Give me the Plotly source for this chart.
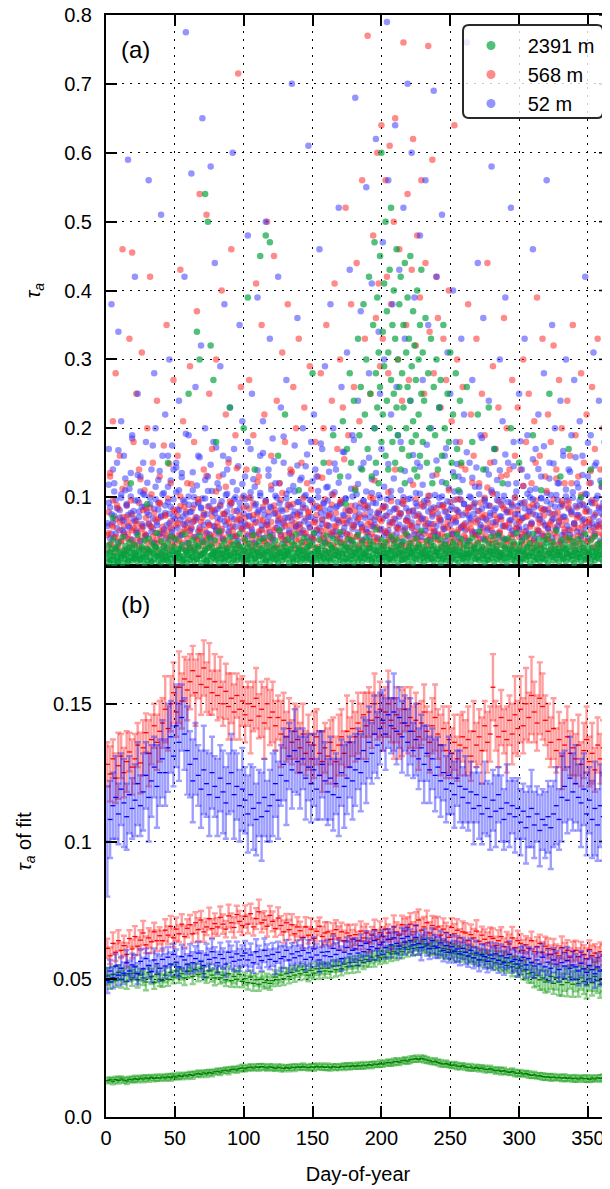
import plotly.graph_objects as go

# ------------------------------------------------------------------ DATA
# (a) daily aerosol optical depth samples, values in units of 1e-3
days = list(range(1, 366))

green_band = [
12,5,20,9,15,3,24,11,7,18,14,4,22,10,16,6,27,13,8,19,
11,21,6,15,9,25,13,4,17,8,23,12,6,19,10,28,14,7,16,5,
20,9,13,26,7,17,11,3,22,15,8,18,12,24,6,14,10,21,5,16,
9,23,13,7,19,11,29,15,4,18,10,22,8,14,26,6,17,12,20,9,
15,5,24,11,18,7,13,21,9,16,4,25,12,19,8,14,27,10,17,6,
22,13,9,18,5,15,23,11,7,20,14,3,24,10,17,8,21,12,6,19,
11,26,9,16,5,20,13,8,22,15,10,18,4,25,12,7,19,14,9,23,
6,16,11,21,8,14,28,10,17,5,20,12,9,24,15,7,18,11,22,6,
13,19,8,25,11,16,4,21,14,9,18,6,23,12,17,7,27,10,15,5,
20,12,8,24,14,6,17,11,21,9,15,26,7,18,12,4,22,10,16,8,
25,13,19,6,15,10,23,8,17,12,28,5,20,14,9,22,11,16,7,24,
13,18,5,21,10,15,27,8,19,12,6,23,14,9,17,11,25,7,16,20,
10,14,4,22,12,18,8,26,13,6,19,11,24,9,16,5,21,14,10,17,
7,23,12,18,6,15,28,10,20,13,8,24,11,16,5,19,14,9,22,12,
17,6,25,10,14,20,8,16,11,27,5,19,13,22,9,15,7,24,12,18,
6,21,11,16,9,26,13,4,19,14,8,23,10,17,7,20,12,28,9,15,
5,22,13,18,8,25,11,16,6,20,14,10,24,7,17,12,21,9,15,4,
23,10,18,13,7,26,15,9,20,11,16,5,22,13,8,19,12,27,10,17,
6,21,14,9,24]

green_band_b = [
18,30,9,24,38,14,27,7,33,20,12,42,16,29,22,8,35,19,26,11,
31,15,45,23,10,28,17,37,13,25,40,21,6,32,18,27,48,14,24,36,
12,29,20,9,34,16,43,22,28,11,39,19,25,14,31,8,46,23,17,33,
26,13,38,21,30,10,27,44,16,35,19,24,7,32,41,15,28,20,37,12,
23,50,18,29,11,36,21,26,14,42,17,31,9,25,34,19,47,13,28,22,
38,10,27,33,16,24,45,12,30,20,36,15,26,40,18,8,31,22,43,14,
29,17,37,11,25,52,19,32,13,28,21,39,16,24,35,10,30,46,18,26,
14,34,23,41,12,27,19,36,9,31,48,17,25,22,38,15,29,13,33,44,
20,11,30,26,40,16,23,35,13,49,28,18,32,10,27,39,21,15,37,24,
31,17,45,22,12,34,27,19,41,14,26,36,10,30,23,53,16,29,20,38,
13,28,35,18,24,11,43,21,32,15,39,25,17,30,9,36,22,47,14,27,
33,19,26,12,40,23,31,16,51,20,28,14,37,24,18,34,11,29,42,21,
25,15,38,28,10,32,22,44,17,27,13,35,20,30,46,16,24,39,12,31,
18,29,14,36,23,41,19,26,11,33,50,21,28,15,37,24,9,32,20,43,
27,16,34,22,45,13,30,19,38,25,12,40,17,29,23,35,14,48,21,31,
10,36,24,18,42,28,15,33,20,47,26,13,30,39,17,25,11,37,22,34,
44,19,29,14,35,23,51,16,27,21,38,12,32,25,18,41,28,15,36,20,
30,13,39,24,17,33,22,46,11,28,19,37,26,14,43,21,31,16,34,25,
18,40,23,12,31]

green_out_x = [5,18,30,45,60,66,68,72,74,76,78,80,90,100,103,108,112,116,119,125,130,140,150,158,165,
170,172,174,175,177,178,180,181,183,184,185,186,187,188,189,190,191,192,193,194,
195,195,196,196,197,197,198,198,199,199,200,200,201,201,202,202,203,203,204,204,
205,205,206,206,207,207,208,208,209,209,210,210,211,211,212,212,213,213,214,214,
215,215,216,216,217,217,218,218,219,219,220,220,221,221,222,222,223,223,224,224,
225,225,226,226,227,227,228,228,229,229,230,230,231,232,233,234,235,236,237,238,
239,240,241,242,243,244,245,246,247,248,249,250,251,252,253,254,255,256,257,258,
262,266,270,274,278,282,288,294,300,310,316,322,330,336,345,352,360]
green_out_y = [70,120,90,150,250,340,300,540,500,320,270,180,230,200,390,140,450,480,470,160,220,110,280,150,190,
130,210,90,170,280,150,240,110,330,190,260,140,380,220,300,170,420,250,130,350,
200,470,280,150,390,230,310,120,450,260,180,600,340,220,410,290,160,500,240,370,
310,140,430,200,270,520,350,180,250,400,150,330,460,230,300,190,380,260,140,420,
280,170,350,230,440,120,310,200,260,390,160,330,240,450,180,290,370,210,140,320,
270,190,400,130,300,220,350,160,250,430,180,310,240,360,150,280,200,330,120,260,
190,300,140,230,270,160,350,200,120,250,180,310,150,220,130,280,170,110,240,150,
260,180,220,140,230,170,120,200,150,190,110,250,130,170,100,140,120]

red_band_a = [
45,78,32,60,95,41,68,27,83,52,36,71,58,24,88,47,63,39,75,55,
30,66,49,92,37,58,81,43,70,26,62,85,35,54,77,48,33,69,90,42,
57,28,74,51,98,38,65,44,82,31,59,73,46,87,34,61,53,79,40,67,
25,56,84,42,71,36,93,49,64,29,77,52,39,86,60,45,72,33,81,50,
63,37,89,54,41,76,28,68,47,94,35,58,80,43,66,31,74,55,99,40,
70,46,32,83,57,38,91,62,44,75,29,67,52,86,36,60,48,78,34,64,
41,88,55,27,73,50,96,39,65,45,82,33,59,71,43,90,54,37,76,48,
61,30,85,47,69,35,79,56,42,92,38,63,74,28,84,51,67,40,97,53,
36,72,46,89,31,58,77,44,66,34,95,50,62,81,39,70,45,87,32,57,
80,43,68,26,91,55,37,74,49,85,33,64,58,98,42,71,36,79,52,65,
29,87,48,73,38,60,94,45,69,35,83,56,41,76,31,90,53,66,44,78,
59,34,81,50,97,40,63,72,37,86,47,68,30,92,55,43,75,61,39,84,
46,70,33,88,57,42,79,64,28,93,51,67,38,82,49,73,35,96,58,44,
77,54,36,85,62,47,90,31,69,45,80,39,71,56,99,43,65,34,87,52,
38,74,60,29,94,48,67,41,83,57,35,78,63,46,89,32,70,54,81,42,
66,37,91,50,72,44,86,33,61,76,40,95,53,68,30,84,47,73,58,39,
82,49,64,35,97,56,43,78,31,70,60,88,45,66,37,93,51,75,42,62,
34,85,55,71,40,90,48,63,79,36,68,52,96,44,74,57,32,86,61,47,
73,39,82,58,45]

red_band_b = [
22,48,135,31,57,19,42,88,27,64,36,112,45,18,71,39,26,95,52,33,
17,61,40,29,126,54,23,47,83,35,20,58,104,43,28,67,38,21,92,50,
34,16,73,44,25,148,56,30,41,79,19,62,37,101,27,49,86,24,55,32,
46,119,28,65,21,39,97,53,18,70,35,44,131,26,59,31,82,42,22,108,
57,29,48,17,76,38,115,25,63,33,91,51,20,44,142,30,68,23,53,85,
36,19,60,99,27,45,74,32,21,122,50,40,16,66,34,93,26,56,42,117,
24,52,81,30,18,69,43,106,28,58,37,20,89,47,137,31,62,25,72,39,
55,22,98,35,48,17,77,29,111,41,64,26,53,19,85,37,128,45,23,60,
32,74,18,49,103,27,57,40,21,93,34,66,155,30,46,24,80,38,59,20,
113,43,28,71,36,52,17,88,31,61,25,100,47,35,124,22,56,39,68,29,
84,19,50,33,107,42,26,63,37,140,23,54,76,30,18,95,45,28,65,34,
21,58,118,40,27,73,32,49,90,24,16,61,36,102,44,29,79,51,20,133,
38,67,25,47,86,31,19,56,110,35,42,22,70,28,97,53,33,146,26,60,
41,17,83,30,54,121,24,45,63,36,20,92,49,27,74,39,114,23,57,32,
105,44,21,68,35,50,18,87,29,59,132,37,25,78,42,31,99,55,22,64,
28,46,116,33,19,72,40,57,26,89,34,150,23,51,62,30,81,43,17,109,
39,60,24,75,31,48,127,20,66,35,94,27,53,41,18,85,37,120,29,55,
22,70,44,32,103,58,26,79,36,19,63,138,40,28,91,47,24,56,33,115,
45,27,76,34,61]

red_out_x = [3,5,7,10,12,15,17,19,20,22,24,26,28,30,32,34,37,39,42,44,47,49,
52,54,56,59,61,64,66,68,71,73,75,77,80,82,84,87,89,91,94,96,98,
102,104,107,109,111,113,115,117,120,122,124,126,128,130,132,134,136,138,140,142,144,146,148,
152,154,156,158,160,162,164,166,168,170,172,174,176,178,180,182,184,186,188,190,192,194,196,197,198,199,
200,201,203,204,205,206,207,209,210,212,213,215,216,218,219,220,222,223,225,226,
228,229,231,232,234,235,237,238,240,241,243,245,247,249,
251,253,255,257,259,261,263,265,267,269,271,273,275,277,279,281,283,285,287,289,291,293,295,297,299,
301,303,305,307,309,311,313,315,317,319,321,323,325,327,329,331,333,335,337,339,
341,343,345,347,349,351,353,355,357,359,361,363,365]
red_out_y = [130,210,280,160,460,120,330,455,180,250,140,310,110,200,420,150,240,130,175,350,120,270,
160,430,210,120,290,180,370,540,140,510,250,170,300,130,400,220,150,460,190,715,260,
140,270,190,410,130,350,220,500,160,450,240,120,310,180,380,140,260,200,330,150,230,120,290,
180,130,280,200,350,150,240,410,170,300,230,520,190,380,260,440,210,560,330,770,250,480,360,600,410,290,
640,330,560,420,280,610,380,500,650,300,460,240,760,350,540,270,430,620,320,480,
390,560,250,440,755,340,590,280,420,360,230,330,270,400,
210,640,300,180,260,140,380,220,160,330,120,250,190,440,150,290,170,230,130,360,200,140,270,160,230,
140,300,180,250,120,210,390,160,330,130,220,180,320,140,270,200,120,240,160,350,
190,130,280,150,220,120,260,170,330,140,200,250,160]

blue_band_a = [
58,92,40,75,63,108,47,84,35,70,99,52,66,43,88,74,56,101,38,80,
65,48,95,71,36,86,57,103,44,78,61,90,50,69,34,97,59,82,46,73,
104,53,77,41,93,62,86,49,72,38,107,55,81,67,45,96,60,76,33,89,
51,79,64,100,42,70,91,56,85,37,74,98,48,63,87,40,109,58,77,52,
83,46,68,94,39,75,60,105,50,88,71,43,97,57,80,36,92,66,54,102,
61,87,44,73,99,53,68,34,90,78,47,106,59,82,41,95,64,72,49,85,
38,76,102,55,66,91,45,80,62,37,98,70,51,86,43,74,108,57,93,60,
79,48,89,65,103,42,71,56,96,39,84,67,52,100,46,77,61,90,35,73,
95,58,83,44,69,107,50,87,63,40,92,74,55,98,47,81,66,36,101,59,
72,104,49,85,61,38,94,70,53,88,43,79,106,57,67,91,41,76,99,54,
86,45,73,97,52,64,109,39,82,68,48,93,60,77,35,100,56,84,70,43,
98,63,80,46,91,57,75,105,42,69,87,51,96,62,38,83,72,49,103,58,
44,89,67,101,54,79,36,94,71,60,86,47,108,65,81,41,97,55,74,90,
62,37,85,70,99,50,76,92,45,66,104,56,83,40,95,68,52,88,73,107,
48,81,64,96,43,72,89,58,102,39,78,93,55,67,86,46,100,61,75,53,
91,42,70,84,57,105,47,79,63,97,38,74,88,51,68,99,44,82,60,94,
55,77,103,41,69,86,53,96,64,36,90,72,49,101,58,83,45,78,107,61,
87,50,74,95,43,66,88,56,104,40,79,93,62,71,47,98,59,84,37,76,
92,54,81,65,100]

blue_band_b = [
62,118,85,47,140,73,96,55,168,81,104,66,49,127,90,58,112,77,185,69,
95,52,132,79,108,61,150,86,45,121,74,99,57,175,83,115,64,92,138,71,
48,106,88,59,160,76,124,53,97,68,143,82,110,44,129,72,93,192,63,101,
78,54,136,89,67,117,50,158,84,98,60,125,75,109,46,147,80,94,57,172,
70,113,87,51,133,65,103,79,155,56,91,122,68,100,43,145,83,62,119,76,
97,58,180,72,107,49,126,88,64,139,81,102,53,164,74,94,60,131,86,111,
45,152,77,99,63,120,82,56,188,70,105,89,48,134,66,116,79,58,146,93,
74,128,52,101,84,162,61,96,71,123,47,140,87,109,55,178,68,92,81,114,
59,137,76,104,50,149,85,67,121,90,46,166,73,98,62,130,80,112,54,183,
88,64,119,75,142,57,95,83,108,49,157,71,126,92,60,135,77,103,53,170,
69,115,86,48,148,78,100,63,127,84,56,190,72,110,91,51,138,66,97,80,
124,55,161,73,106,87,47,144,68,118,94,58,176,79,102,61,131,85,50,153,
76,99,65,122,89,54,171,71,113,82,46,136,96,63,148,78,107,57,125,90,
52,165,74,101,67,128,86,49,143,80,115,60,186,70,97,88,55,133,77,110,
63,151,84,104,48,139,72,96,58,162,81,119,66,92,51,145,75,108,87,56,
181,69,116,93,50,130,79,100,61,155,85,112,47,141,73,98,64,174,82,106,
54,127,90,67,149,76,103,58,120,86,45,167,71,111,95,53,137,80,99,62,
158,74,114,88,49,132,68,105,83,179,60,121,91,55,146,77,102,65,124,84,
57,140,93,70,113]

blue_out_x = [2,4,6,8,9,11,13,14,16,18,19,21,23,25,27,29,31,33,35,36,38,40,41,43,45,46,48,49,
51,53,55,57,58,60,62,63,65,67,69,70,72,74,76,78,79,81,83,85,86,88,90,92,93,95,97,99,
101,103,105,106,108,110,112,114,116,118,119,121,123,125,127,129,131,133,135,137,139,141,143,145,147,149,
151,153,155,157,159,161,163,165,167,169,171,173,175,177,179,181,183,185,187,189,191,193,195,196,198,199,
201,202,204,205,207,208,210,211,213,214,216,217,219,221,222,224,226,228,230,232,234,236,238,240,242,244,246,248,250,
252,254,256,258,260,262,264,266,268,270,272,274,276,278,280,282,284,286,288,290,292,294,296,298,
300,302,304,306,308,310,312,314,316,318,320,322,324,326,328,330,332,334,336,338,
340,342,344,346,348,350,352,354,356,358,360,362,364]
blue_out_y = [170,380,120,150,340,210,160,110,590,135,190,420,250,130,105,180,560,140,280,200,125,510,160,220,115,300,175,140,
150,240,135,420,775,190,570,110,260,160,320,650,200,130,580,180,440,120,290,160,380,140,230,600,170,110,350,210,
130,480,170,250,115,390,160,210,500,140,330,185,120,420,230,150,270,110,700,175,360,125,200,145,610,180,
220,130,460,170,290,115,380,200,140,520,260,165,310,430,190,680,240,370,150,550,280,410,200,620,340,250,
470,300,790,560,220,380,640,260,430,180,520,330,700,240,600,390,150,480,270,560,350,200,690,420,230,510,160,310,250,
400,180,130,330,220,760,150,270,115,440,190,360,140,240,580,170,125,300,210,390,150,520,180,120,
250,140,330,190,110,460,170,220,130,280,560,150,350,200,120,240,160,300,140,190,
270,120,210,160,420,130,190,310,150,240,115,180,300]

# (b) tau_a of the fits, every second day; values in 1e-4, errors as noted
fit_days = list(range(1, 366, 2))

red_hi = [1280,1245,1300,1230,1275,1310,1250,1290,1325,1270,
1300,1350,1285,1340,1395,1320,1370,1420,1360,1400,
1430,1480,1410,1500,1540,1470,1560,1510,1590,1550,
1580,1620,1540,1600,1570,1630,1560,1590,1540,1580,
1530,1560,1500,1545,1490,1520,1470,1530,1480,1510,
1460,1500,1440,1490,1520,1455,1480,1430,1500,1450,
1470,1420,1450,1390,1440,1380,1410,1360,1400,1370,
1340,1390,1320,1360,1300,1350,1380,1320,1290,1340,
1310,1360,1330,1290,1350,1380,1320,1400,1360,1410,
1380,1430,1400,1460,1420,1470,1440,1500,1450,1480,
1430,1470,1500,1440,1410,1460,1390,1430,1480,1420,
1450,1400,1440,1380,1430,1470,1400,1360,1420,1450,
1390,1350,1410,1330,1370,1320,1360,1300,1350,1380,
1340,1370,1310,1400,1350,1380,1330,1420,1360,1390,
1560,1420,1380,1450,1400,1370,1440,1390,1460,1410,
1480,1420,1500,1450,1530,1470,1430,1520,1490,1440,
1400,1360,1410,1330,1370,1310,1350,1380,1320,1340,
1300,1350,1280,1330,1370,1290,1320,1260,1350,1300,
1340,1280,1320]
red_hi_err = [8,10,7,9,12,8,9,11,7,10, 9,8,11,10,7,12,9,8,10,11, 9,12,8,10,11,9,13,10,8,11,
10,9,12,8,11,10,9,13,8,10, 9,11,8,10,12,9,10,8,11,9, 10,8,12,9,11,8,10,13,9,10,
11,9,8,12,10,9,11,8,10,12, 9,11,8,10,9,12,10,8,11,9, 10,8,12,9,11,10,8,13,9,10,
9,11,10,8,12,9,10,11,8,10, 10,9,12,8,11,10,9,12,8,10, 11,9,10,12,8,10,9,11,10,12,
9,11,8,10,12,9,10,8,11,9, 10,12,9,11,8,10,12,9,11,10, 12,9,11,10,8,12,9,11,14,10,
12,10,13,9,14,11,10,13,12,9, 10,9,11,8,10,12,9,11,8,10, 9,11,8,10,12,9,11,8,10,9, 10,12,9]

blue_hi = [1000,1080,1130,1160,1100,1190,1140,1090,1170,1120,
1150,1210,1130,1180,1240,1160,1220,1270,1200,1250,
1300,1250,1340,1380,1310,1420,1360,1450,1390,1330,
1280,1220,1300,1240,1190,1260,1210,1170,1250,1200,
1160,1230,1180,1140,1210,1250,1170,1200,1130,1190,
1150,1100,1170,1120,1080,1140,1090,1160,1110,1130,
1170,1210,1150,1240,1280,1220,1310,1260,1330,1290,
1250,1300,1230,1270,1210,1260,1190,1240,1280,1220,
1180,1230,1170,1210,1160,1250,1200,1230,1270,1220,
1260,1300,1250,1330,1290,1360,1320,1390,1350,1410,
1440,1390,1460,1420,1470,1400,1450,1380,1430,1360,
1400,1330,1370,1300,1340,1280,1320,1260,1300,1240,
1270,1220,1250,1190,1240,1210,1170,1230,1200,1160,
1190,1140,1180,1120,1170,1130,1100,1160,1120,1090,
1150,1110,1170,1120,1080,1140,1100,1130,1090,1120,
1070,1110,1050,1090,1120,1060,1100,1040,1080,1060,
1090,1050,1100,1130,1080,1160,1200,1150,1230,1180,
1210,1160,1140,1190,1100,1150,1080,1120,1060,1130,
1090,1050,1110]
blue_hi_err = [20,14,12,15,11,13,16,12,14,11, 13,15,11,14,12,16,13,11,15,12, 14,12,16,13,11,15,14,12,13,16,
12,15,13,11,14,16,12,15,13,11, 14,12,15,13,11,14,16,12,13,15, 12,14,11,15,13,12,16,14,11,13,
15,12,14,11,13,16,12,14,15,12, 13,11,15,12,14,13,11,16,12,14, 12,15,13,11,14,12,15,13,11,14,
13,11,14,12,15,13,11,14,12,13, 11,13,12,10,14,12,11,13,10,12, 12,10,13,11,12,14,10,12,11,13,
11,13,10,12,14,11,12,10,13,11, 12,10,11,13,10,12,11,13,10,12, 11,13,10,12,11,14,12,10,13,11,
12,10,13,11,14,12,10,13,11,12, 13,15,12,14,11,16,13,12,15,14, 14,12,16,13,15,12,14,17,13,15, 16,14,18]

red_lo = [612,585,630,598,640,605,622,590,648,610, 655,620,642,668,625,650,636,672,640,658,
640,678,660,692,650,682,665,700,655,685, 698,665,705,680,715,672,690,720,684,702,
690,725,700,682,730,705,688,735,710,695, 728,700,738,690,720,745,705,715,692,732,
710,684,722,695,672,705,680,698,665,690, 676,652,690,660,682,648,674,692,655,668,
672,645,665,680,650,672,640,668,658,645, 662,640,675,650,668,635,660,680,645,670,
655,682,668,645,690,672,660,698,675,688, 700,672,695,715,678,690,705,668,695,682,
690,660,682,670,652,688,665,678,650,672, 668,640,662,650,675,638,660,645,632,655,
648,622,640,655,618,635,628,650,615,640, 630,605,625,612,640,600,618,630,598,620,
612,590,608,595,585,615,598,605,580,600, 605,582,598,590,575,608,586,595,578,600, 590,570,598]
red_lo_err = [35,30,40,32,38,28,36,42,30,34, 38,32,36,44,30,35,40,33,37,31, 36,40,32,38,34,42,30,36,39,33,
35,31,38,42,33,36,30,40,34,37, 32,39,35,30,41,34,37,32,38,35, 40,33,36,31,38,44,35,32,37,34,
36,30,39,34,41,32,36,38,31,35, 33,38,35,30,40,34,37,32,36,39, 35,31,38,34,42,33,36,30,39,34,
37,32,35,41,33,38,30,36,34,40, 34,39,31,36,42,35,38,33,45,37, 40,35,48,38,42,36,44,39,35,41,
37,33,39,35,41,34,36,40,32,38, 35,30,37,33,39,34,31,36,38,33, 36,32,38,34,30,37,35,40,33,36,
34,38,31,36,33,39,35,32,37,34, 36,33,38,31,35,40,34,37,32,36, 35,31,37,34,39,33,36,32,38,34, 36,33,35]

blue_lo = [495,530,505,548,515,540,522,560,530,552, 545,520,565,538,575,550,528,570,556,540,
572,548,580,555,590,562,545,582,570,555, 585,560,575,595,565,550,588,572,600,578,
560,590,575,555,598,580,565,592,570,585, 595,570,588,560,600,582,568,605,585,572,
590,565,598,575,582,605,570,592,578,600, 585,605,572,596,580,610,588,570,598,585,
600,582,612,590,605,575,598,615,592,605, 610,595,622,600,630,608,618,640,612,625,
635,615,645,625,650,630,620,648,635,655, 640,625,652,630,615,645,628,612,640,620,
615,632,605,622,598,618,600,610,592,612, 598,585,605,578,595,570,590,582,565,588,
575,592,568,585,560,578,590,565,572,555, 568,580,552,575,560,548,570,555,580,545,
562,540,570,555,535,560,548,568,540,552, 545,530,558,538,525,550,535,520,545,530, 535,515,540]
blue_lo_err = [45,40,38,44,36,42,39,46,37,41, 43,38,45,40,36,44,39,42,37,46, 40,44,37,42,39,46,38,43,41,36,
42,38,45,40,37,44,41,39,46,38, 40,43,37,45,39,42,36,44,40,38, 44,39,42,37,45,40,38,43,41,36,
42,46,38,44,40,37,45,39,43,41, 38,44,40,46,37,42,39,45,41,38, 43,39,46,41,38,44,40,37,45,42,
39,45,41,38,44,40,46,37,42,39, 44,40,37,45,41,38,43,39,46,40, 41,38,44,40,46,37,42,39,45,41,
38,43,40,45,37,42,39,46,41,38, 44,40,42,38,45,41,37,43,40,46, 42,38,45,41,44,39,47,42,40,45,
48,43,46,41,50,44,47,42,49,45, 46,50,44,48,42,52,46,49,44,51, 47,52,45,50,48,54,46,51,49,53, 50,55,48]

green_hi = [512,490,518,495,525,500,515,492,520,505, 522,498,515,505,490,525,510,488,518,500,
495,515,500,525,508,530,512,520,505,528, 530,510,535,518,538,520,508,530,515,505,
525,505,515,498,520,495,510,500,518,492, 502,488,508,485,498,482,500,488,495,485,
495,508,498,515,502,520,510,525,515,530, 520,535,525,515,532,522,538,528,540,530,
540,528,548,535,550,538,555,545,560,548, 562,550,568,560,572,565,580,570,585,578,
590,580,598,592,600,595,610,600,615,608, 620,612,625,615,628,618,622,610,620,612,
615,602,612,598,608,595,605,592,600,588, 598,582,592,578,588,572,585,570,578,565,
575,560,570,555,565,550,560,545,555,540, 548,530,535,520,525,505,515,498,505,490,
495,510,485,505,490,480,502,488,508,482, 500,485,505,492,480,502,488,510,495,482, 502,490,508]
green_hi_err = [30,25,28,22,26,30,24,27,23,29, 25,28,22,26,30,24,27,23,29,25, 22,26,24,28,23,27,25,21,26,24,
23,27,22,25,28,24,21,26,23,27, 24,21,26,23,27,22,25,28,24,21, 22,25,23,27,21,24,26,22,25,23,
21,24,22,26,23,20,25,22,24,21, 23,20,24,22,25,21,23,26,22,24, 20,23,21,25,22,24,20,23,21,25,
22,24,21,23,25,20,22,24,21,23, 24,21,23,26,22,25,21,24,22,26, 23,25,22,26,24,21,25,23,27,22,
25,22,26,24,21,25,23,27,22,24, 26,23,25,22,27,24,21,26,23,25, 28,25,30,26,32,27,29,34,28,31,
33,30,36,32,38,34,40,36,42,38, 40,45,38,42,48,40,44,50,42,46, 44,48,42,46,50,43,47,52,45,49, 46,50,44]

green_lo = [132,135,130,136,133,138,134,131,137,135, 139,136,141,138,142,139,144,140,143,141,
145,142,146,143,148,145,150,147,152,149, 154,151,156,158,155,160,157,162,159,164,
166,163,168,170,167,172,174,171,176,178, 175,179,181,178,182,180,183,181,178,182,
180,177,181,178,176,180,177,181,179,182, 180,183,181,179,182,180,184,181,183,180,
182,179,183,181,180,184,182,185,183,186, 184,187,185,188,186,190,188,192,190,194,
192,196,198,196,200,202,199,204,206,203, 208,210,212,209,213,210,207,204,200,202,
198,195,192,194,190,187,189,185,183,186, 182,179,181,177,180,176,178,174,172,175,
171,168,170,166,168,164,162,165,160,158, 160,156,158,154,151,153,149,150,147,145,
146,143,145,142,144,141,143,140,142,139, 141,138,142,139,140,137,141,138,142,140, 143,140,144]
green_lo_err = [10,9,11,10,12,9,10,11,9,10, 11,10,9,12,10,11,9,10,11,10, 9,11,10,12,10,9,11,10,9,11,
10,12,9,11,10,9,12,10,11,9, 10,11,9,10,12,10,9,11,10,12, 9,10,11,9,10,12,10,11,9,10,
11,9,10,12,10,9,11,10,12,9, 10,11,9,10,11,12,10,9,11,10, 12,10,9,11,10,9,12,10,11,10,
9,11,10,12,9,10,11,10,9,12, 10,9,11,10,12,11,10,9,11,10, 12,10,11,9,10,12,11,10,9,11,
10,12,9,11,10,9,11,12,10,9, 11,10,12,9,10,11,9,12,10,11, 9,11,10,12,11,9,10,11,12,10,
11,9,10,12,10,11,9,10,12,11, 10,12,11,9,10,11,12,10,9,11, 12,10,9,11,12,10,11,9,10,12, 11,10,9]

series_names = ["2391 m", "568 m", "52 m"]
x_ticks = [0, 50, 100, 150, 200, 250, 300, 350]
top_y_ticks = [0.1, 0.2, 0.3, 0.4, 0.5, 0.6, 0.7, 0.8]
bot_y_ticks = [0.0, 0.05, 0.1, 0.15]
bot_y_text = ["0.0", "0.05", "0.1", "0.15"]

# ------------------------------------------------------------------ STYLE
FONT = "Liberation Sans, Arial, Helvetica, sans-serif"
C_GREEN = "rgba(0,160,60,0.68)"
C_RED = "rgba(255,30,30,0.52)"
C_BLUE = "rgba(50,50,255,0.52)"

fig = go.Figure()


def top_points(xs, ys_milli, color):
    n = min(len(xs), len(ys_milli))
    fig.add_trace(go.Scatter(
        x=xs[:n], y=[v * 1e-3 for v in ys_milli[:n]], mode="markers",
        marker=dict(size=6.5, color=color, line=dict(width=0)),
        xaxis="x2", yaxis="y2", showlegend=False, hoverinfo="skip"))


top_points(days, blue_band_b, C_BLUE)
top_points(days, red_band_a, C_RED)
top_points(days, blue_band_a, C_BLUE)
top_points(days, red_band_b, C_RED)
top_points(red_out_x, red_out_y, C_RED)
top_points(blue_out_x, blue_out_y, C_BLUE)
top_points(days, green_band, C_GREEN)
top_points(days, green_band_b, C_GREEN)
top_points(green_out_x, green_out_y, C_GREEN)

# legend entries (leading no-break spaces reproduce the wide marker/text gap)
for name, col in zip(series_names, [C_GREEN, C_RED, C_BLUE]):
    fig.add_trace(go.Scatter(x=[None], y=[None], mode="markers", name="\u00a0\u00a0\u00a0" + name,
                             marker=dict(size=9, color=col, line=dict(width=0)),
                             xaxis="x2", yaxis="y2", showlegend=True))


def fit_points(vals, val_scale, errs, err_scale, line_col, bar_col):
    n = min(len(vals), len(errs))
    fig.add_trace(go.Scatter(
        x=fit_days[:n], y=[v * val_scale for v in vals[:n]], mode="markers",
        marker=dict(symbol="line-ew", size=3.5, color=line_col,
                    line=dict(color=line_col, width=1.3)),
        error_y=dict(type="data", array=[e * err_scale for e in errs[:n]],
                     color=bar_col, thickness=2.4, width=3),
        xaxis="x", yaxis="y", showlegend=False, hoverinfo="skip"))


G_LINE, G_BAR = "rgb(0,128,0)", "rgba(0,150,0,0.45)"
R_LINE, R_BAR = "rgb(255,0,0)", "rgba(255,0,0,0.38)"
B_LINE, B_BAR = "rgb(0,0,255)", "rgba(0,0,255,0.38)"

fit_points(green_hi, 1e-4, green_hi_err, 1e-4, G_LINE, G_BAR)
fit_points(green_lo, 1e-4, green_lo_err, 1e-4, G_LINE, G_BAR)
fit_points(red_hi, 1e-4, red_hi_err, 1e-3, R_LINE, R_BAR)
fit_points(red_lo, 1e-4, red_lo_err, 1e-4, R_LINE, R_BAR)
fit_points(blue_hi, 1e-4, blue_hi_err, 1e-3, B_LINE, B_BAR)
fit_points(blue_lo, 1e-4, blue_lo_err, 1e-4, B_LINE, B_BAR)

# ------------------------------------------------------------------ LAYOUT
# the page body adds an 8 px offset; the figure is sized so the plot lands
# where the reference has it (left spine at x=106, top spine at y=15)
OFF = 8
W, H = 602, 1181
ML, MR, MT, MB = 98, 0, 7, 72
PW, PH = W - ML - MR, H - MT - MB

common_axis = dict(
    ticks="inside", ticklen=11, tickwidth=1.5, tickcolor="black",
    showline=True, linewidth=2, linecolor="black", zeroline=False,
    showgrid=True, gridcolor="black", gridwidth=1.3, griddash="2px,6px",
    tickfont=dict(family=FONT, size=20, color="black"), automargin=False,
    ticklabeloverflow="allow",
)


def px_x(px):
    return (px - OFF - ML) / PW


def px_y(py):
    return (MT + PH - (py - OFF)) / PH


fig.update_layout(
    width=W, height=H,
    margin=dict(l=ML, r=MR, t=MT, b=MB, autoexpand=False),
    paper_bgcolor="white", plot_bgcolor="white",
    font=dict(family=FONT, size=20, color="black"),
    xaxis=dict(domain=[0, 1], anchor="y", range=[0, 366], tickvals=x_ticks,
               mirror="ticks", ticklabelstandoff=2,
               title=dict(text="Day-of-year", standoff=19,
                          font=dict(family=FONT, size=20)),
               **common_axis),
    xaxis2=dict(domain=[0, 1], anchor="y2", range=[0, 366], tickvals=x_ticks,
                matches="x", showticklabels=False, mirror="ticks", **common_axis),
    yaxis=dict(domain=[0, 0.5], anchor="x", range=[0, 0.2], tickvals=bot_y_ticks,
               ticktext=bot_y_text, ticklabelstandoff=8,
               title=dict(text="<i>τ</i><sub><i>a</i></sub> of fit", standoff=16,
                          font=dict(family=FONT, size=20)),
               **common_axis),
    yaxis2=dict(domain=[0.5, 1], anchor="x2", range=[0, 0.8], tickvals=top_y_ticks,
                ticktext=[f"{v:.1f}" for v in top_y_ticks], ticklabelstandoff=8,
                title=dict(text="<i>τ</i><sub><i>a</i></sub>", standoff=18,
                           font=dict(family=FONT, size=20)),
                **common_axis),
    legend=dict(x=px_x(471), y=px_y(26), xanchor="left", yanchor="top",
                bgcolor="rgba(0,0,0,0)", borderwidth=0, itemwidth=30,
                font=dict(family=FONT, size=20, color="black")),
    showlegend=True,
)

# panel labels
fig.add_annotation(text="(a)", xref="x2 domain", yref="y2 domain", x=0.026, y=0.937,
                   xanchor="left", yanchor="middle", showarrow=False,
                   font=dict(family=FONT, size=24, color="black"))
fig.add_annotation(text="(b)", xref="x domain", yref="y domain", x=0.026, y=0.93,
                   xanchor="left", yanchor="middle", showarrow=False,
                   font=dict(family=FONT, size=24, color="black"))

# right-hand inside ticks (right spine lies just outside the picture)
for yv in top_y_ticks:
    fig.add_shape(type="line", xref="paper", yref="y2", x0=1 - 11 / PW, x1=1, y0=yv, y1=yv,
                  line=dict(color="black", width=1.5))
for yv in bot_y_ticks[1:]:
    fig.add_shape(type="line", xref="paper", yref="y", x0=1 - 11 / PW, x1=1, y0=yv, y1=yv,
                  line=dict(color="black", width=1.5))

# rounded legend frame
L, R, T, B, rad = 463, 603, 25, 118, 6
rx, ry = rad / PW, rad / PH
x0, x1, y0, y1 = px_x(L), px_x(R), px_y(B), px_y(T)
path = (f"M {x0+rx},{y1} L {x1-rx},{y1} Q {x1},{y1} {x1},{y1-ry} "
        f"L {x1},{y0+ry} Q {x1},{y0} {x1-rx},{y0} L {x0+rx},{y0} "
        f"Q {x0},{y0} {x0},{y0+ry} L {x0},{y1-ry} Q {x0},{y1} {x0+rx},{y1} Z")
fig.add_shape(type="path", path=path, xref="paper", yref="paper",
              fillcolor="rgba(255,255,255,0.8)", line=dict(color="rgb(40,40,40)", width=2))

fig.write_html("out.html")
